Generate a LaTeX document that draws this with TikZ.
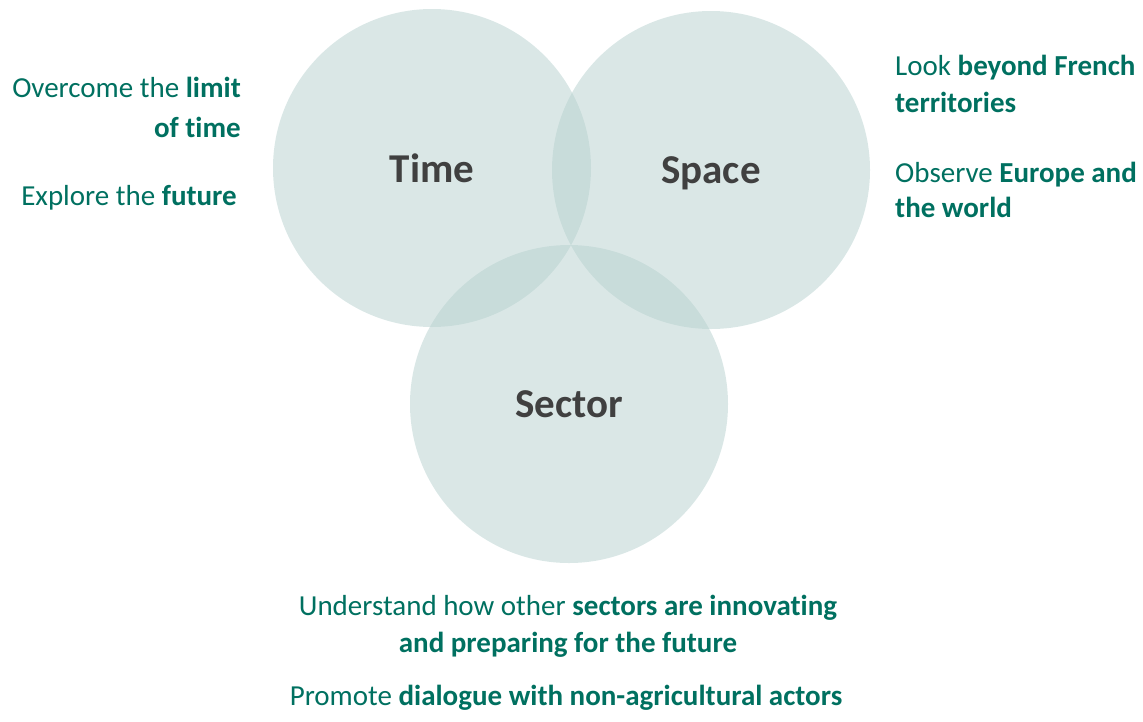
\documentclass[tikz,border=0pt]{standalone}
\usepackage{fontspec}
\setmainfont[Ligatures=NoCommon]{Carlito}
\definecolor{teal}{RGB}{0,112,96}
\definecolor{lab}{RGB}{64,64,64}
\definecolor{circ}{RGB}{182,208,206}
\begin{document}
\begin{tikzpicture}[x=1pt,y=-1pt,
  bubble/.style={circle,fill=circ,fill opacity=0.5,minimum size=318pt,inner sep=0pt},
  lbl/.style={text=lab,font=\fontsize{41}{48}\selectfont\bfseries,inner sep=0pt,anchor=base},
  txt/.style={text=teal,font=\fontsize{29}{34}\selectfont,inner sep=0pt}]
\useasboundingbox (0,0) rectangle (1143,721);
\node[bubble] (time) at (432,168) {};
\node[bubble] (space) at (711,170) {};
\node[bubble] (sector) at (569,404) {};
\node[lbl] (timel) at ([yshift=-14pt]time.center) {Time};
\node[lbl] (spacel) at ([yshift=-13pt]space.center) {Space};
\node[lbl] (sectorl) at ([yshift=-13pt]sector.center) {Sector};
\node[txt,anchor=base east] (t1) at (241,97) {Overcome the \textbf{limit}};
\node[txt,anchor=base east] (t2) at (241,137) {\textbf{of time}};
\node[txt,anchor=base east] (t3) at (237,205) {Explore the \textbf{future}};
\node[txt,anchor=base west] (s1) at (895,75) {Look \textbf{beyond French}};
\node[txt,anchor=base west] (s2) at (895,112) {\textbf{territories}};
\node[txt,anchor=base west] (s3) at (895,182) {Observe \textbf{Europe and}};
\node[txt,anchor=base west] (s4) at (895,217) {\textbf{the world}};
\node[txt,anchor=base] (c1) at (568,615) {Understand how other \textbf{sectors are innovating}};
\node[txt,anchor=base] (c2) at (568,652) {\textbf{and preparing for the future}};
\node[txt,anchor=base] (c3) at (566,705) {Promote \textbf{dialogue with non-agricultural actors}};
\end{tikzpicture}
\end{document}
